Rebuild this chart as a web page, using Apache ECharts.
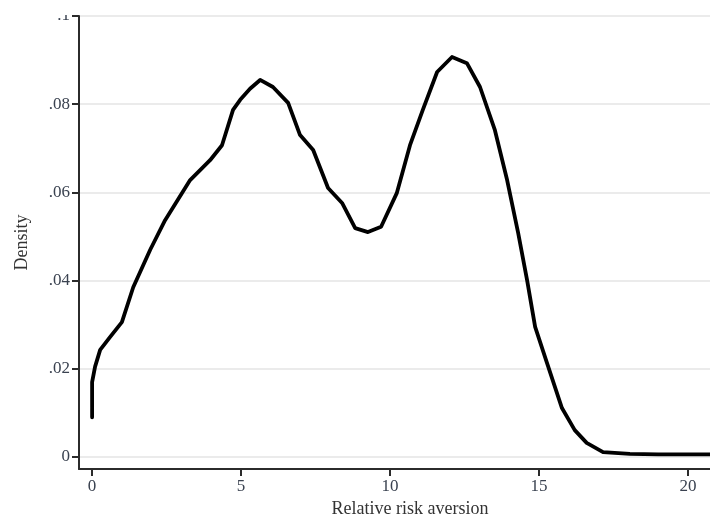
<!DOCTYPE html>
<html>
<head>
<meta charset="utf-8">
<script src="https://cdn.jsdelivr.net/npm/echarts@6/dist/echarts.min.js"></script>
<style>
  html, body { margin: 0; padding: 0; background: #fff; }
  #chart { width: 710px; height: 515px; }
</style>
</head>
<body>
<div id="chart"></div>
<script>
// Kernel density estimate of relative risk aversion
const riskAversion = [0, 0, 0.1, 0.27, 0.6, 1.0, 1.38, 1.95, 2.45, 3.29, 3.96, 4.36, 4.73, 4.97,
  5.3, 5.64, 6.07, 6.58, 6.98, 7.42, 7.92, 8.39, 8.83, 9.26, 9.7, 10.23, 10.67, 11.1, 11.58,
  12.08, 12.58, 13.02, 13.52, 13.93, 14.3, 14.6, 14.87, 15.27, 15.77, 16.2, 16.6, 17.15,
  18.05, 19.0, 20.0, 21.0, 21.8];
const density = [0.009, 0.017, 0.0205, 0.0243, 0.0272, 0.0306, 0.0385, 0.047, 0.0537, 0.0628,
  0.0673, 0.0707, 0.0787, 0.081, 0.0835, 0.0855, 0.0839, 0.0803, 0.073, 0.0696, 0.061, 0.0576,
  0.0519, 0.051, 0.0522, 0.0599, 0.0707, 0.0787, 0.0873, 0.0907, 0.0893, 0.0839, 0.0741,
  0.0628, 0.0508, 0.0401, 0.0295, 0.0213, 0.0111, 0.0061, 0.0032, 0.0011, 0.0007, 0.0006,
  0.0006, 0.0006, 0.0006];
const xTicks = [0, 5, 10, 15, 20];
const yTicks = [0, 0.02, 0.04, 0.06, 0.08, 0.1];

const serif = '"Liberation Serif", "DejaVu Serif", serif';
const fmtY = v => (v === 0 ? '0' : String(+v.toFixed(2)).replace(/^0/, ''));

const chart = echarts.init(document.getElementById('chart'), null, { renderer: 'canvas' });
chart.setOption({
  animation: false,
  backgroundColor: '#fff',
  grid: { left: 79, top: 16, width: 662, height: 453, containLabel: false, outerBoundsMode: 'none' },
  xAxis: {
    type: 'value',
    min: -0.44,
    max: 21.78,
    name: 'Relative risk aversion',
    nameLocation: 'middle',
    nameGap: 31,
    nameTextStyle: { fontFamily: serif, fontSize: 18, color: '#333' },
    axisLine: { show: true, onZero: false, lineStyle: { color: '#2b2b2b', width: 2 } },
    axisTick: { show: true, length: 7, customValues: xTicks, lineStyle: { color: '#2b2b2b', width: 2 } },
    axisLabel: { customValues: xTicks, margin: 9, fontFamily: serif, fontSize: 17, color: '#3a4250' },
    splitLine: { show: false }
  },
  yAxis: {
    type: 'value',
    min: -0.00272,
    max: 0.1,
    name: 'Density',
    nameLocation: 'middle',
    nameGap: 48,
    nameRotate: 90,
    nameTextStyle: { fontFamily: serif, fontSize: 18, color: '#333' },
    axisLine: { show: true, onZero: false, lineStyle: { color: '#2b2b2b', width: 2 } },
    axisTick: { show: true, length: 7, customValues: yTicks, lineStyle: { color: '#2b2b2b', width: 2 } },
    axisLabel: { customValues: yTicks, margin: 9, fontFamily: serif, fontSize: 17, color: '#3a4250', formatter: fmtY },
    splitLine: { show: true, lineStyle: { color: '#e4e4e4', width: 1.5 } }
  },
  series: [{
    type: 'line',
    data: riskAversion.map((x, i) => [x, density[i]]),
    showSymbol: false,
    smooth: false,
    clip: true,
    lineStyle: { color: '#000', width: 3.8, join: 'round', cap: 'round' }
  }],
  graphic: [{
    type: 'rect',
    left: 0,
    top: 0,
    z: 100,
    shape: { width: 710, height: 15 },
    style: { fill: '#fff' }
  }]
});
</script>
</body>
</html>
